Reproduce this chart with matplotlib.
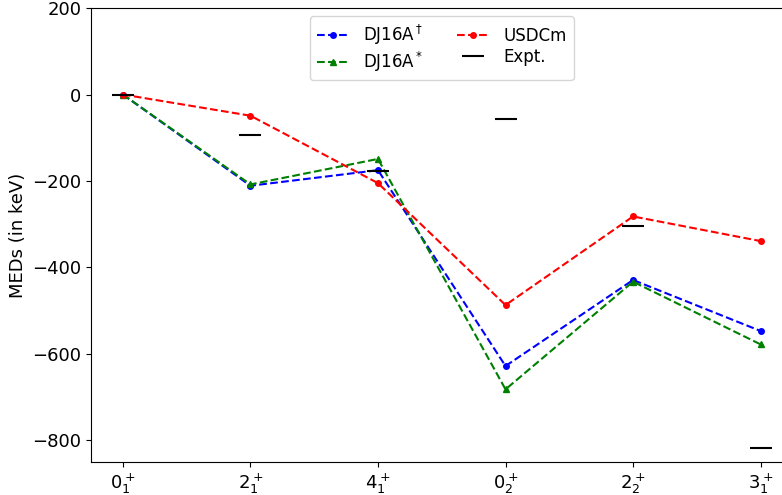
import numpy as np
import matplotlib.pyplot as plt

# estados y energias (keV)
estados = [r'$0^+_1$', r'$2^+_1$', r'$4^+_1$', r'$0^+_2$', r'$2^+_2$', r'$3^+_1$']
dj16a_daga = [0, -211, -175, -628, -429, -547]
dj16a_ast = [0, -208, -149, -682, -433, -578]
usdcm = [0, -49, -205, -487, -282, -339]
expt = [0, -94, -178, -56, -304, -818]

x = np.arange(len(estados))

plt.rcParams['font.size'] = 13
fig = plt.figure(figsize=(7.82, 4.95), dpi=100)
ax = fig.add_axes([0.1164, 0.0667, 0.897, 0.917])

ax.plot(x, dj16a_daga, 'b--', marker='o', markersize=4, label=r'DJ16A$^\dagger$')
ax.plot(x, dj16a_ast, 'g--', marker='^', markersize=5, label=r'DJ16A$^*$')
ax.plot(x, usdcm, 'r--', marker='o', markersize=4, label='USDCm')
ax.plot(x, expt, 'k', linestyle='none', marker='_', markersize=16, markeredgewidth=1.5, label='Expt.')

ax.set_xticks(x)
ax.set_xticklabels(estados)
ax.set_ylim(-850, 200)
ax.set_ylabel('MEDs (in keV)')
ax.legend(loc='upper center', ncol=2, fontsize=12, labelspacing=0.15)

plt.savefig('out.png', dpi=100)
